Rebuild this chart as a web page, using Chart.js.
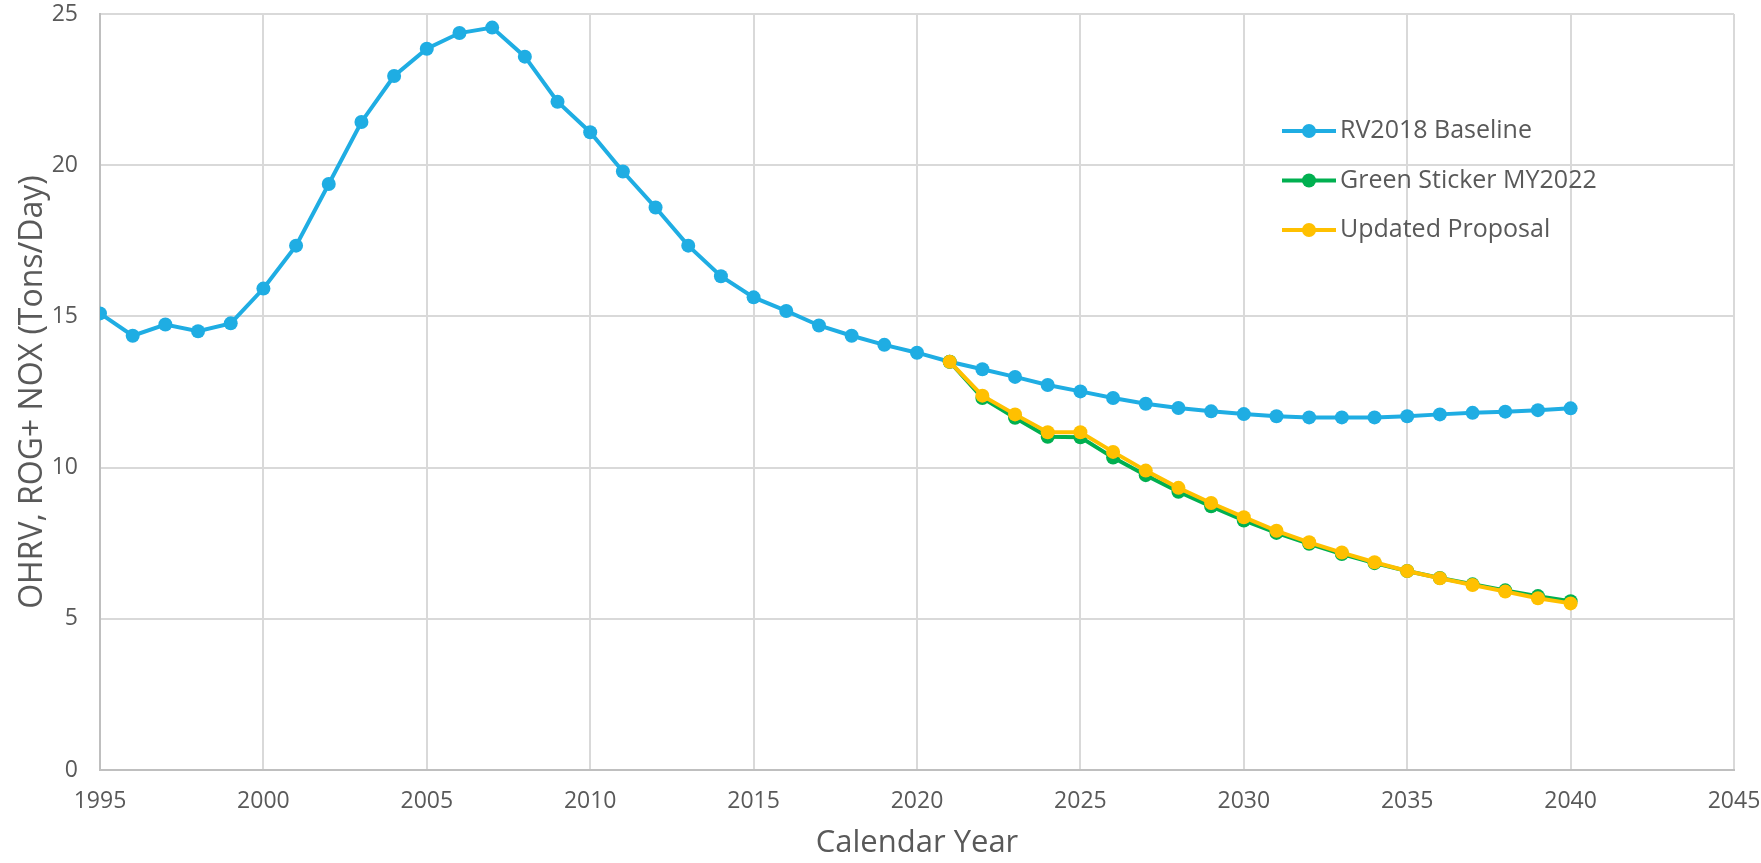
<!DOCTYPE html>
<html>
<head>
<meta charset="utf-8">
<script src="https://cdn.jsdelivr.net/npm/chart.js@4"></script>
<style>
  html, body { margin: 0; padding: 0; background: #fff; }
  #wrap { width: 1761px; height: 863px; }
</style>
</head>
<body>
<div id="wrap"><canvas id="chart" width="1761" height="863"></canvas></div>
<script>
const years = [];
for (let y = 1995; y <= 2040; y++) years.push(y);

const baseline = [
  15.10, 14.36, 14.73, 14.51, 14.77, 15.92, 17.34, 19.38, 21.43, 22.95,
  23.85, 24.37, 24.55, 23.59, 22.10, 21.09, 19.79, 18.60, 17.34, 16.33,
  15.63, 15.18, 14.70, 14.36, 14.06, 13.80, 13.50, 13.25, 13.00, 12.73,
  12.52, 12.30, 12.11, 11.97, 11.86, 11.77, 11.70, 11.66, 11.66, 11.66,
  11.70, 11.76, 11.81, 11.85, 11.90, 11.96
];

const scenarioYears = [];
for (let y = 2021; y <= 2040; y++) scenarioYears.push(y);

const greenSticker = [
  13.50, 12.30, 11.65, 11.02, 11.00, 10.33, 9.75, 9.20, 8.72, 8.25,
  7.84, 7.48, 7.14, 6.84, 6.58, 6.35, 6.14, 5.94, 5.75, 5.58
];
const updatedProposal = [
  13.50, 12.38, 11.76, 11.17, 11.17, 10.52, 9.90, 9.33, 8.83, 8.36,
  7.91, 7.53, 7.19, 6.87, 6.58, 6.34, 6.12, 5.90, 5.68, 5.51
];

const seriesNames = ['RV2018 Baseline', 'Green Sticker MY2022', 'Updated Proposal'];
const seriesColors = ['#1fade3', '#00b050', '#ffc000'];

function points(xs, ys) {
  return xs.map((x, i) => ({ x: x, y: ys[i] }));
}

const font = "'Open Sans', 'Liberation Sans', sans-serif";
const textColor = '#595959';

// legend drawn inside the plot area, like the original
const insideLegend = {
  id: 'insideLegend',
  afterDraw(chart) {
    const ctx = chart.ctx;
    ctx.save();
    chart.data.datasets.forEach((ds, i) => {
      const y = 131 + i * 49.5;
      ctx.strokeStyle = ds.borderColor;
      ctx.lineWidth = 4;
      ctx.beginPath();
      ctx.moveTo(1282, y);
      ctx.lineTo(1336, y);
      ctx.stroke();
      ctx.fillStyle = ds.borderColor;
      ctx.beginPath();
      ctx.arc(1309, y, 7, 0, Math.PI * 2);
      ctx.fill();
      ctx.fillStyle = textColor;
      ctx.font = '25px ' + font;
      ctx.textBaseline = 'middle';
      ctx.textAlign = 'left';
      ctx.fillText(ds.label, 1340, y);
    });
    ctx.restore();
  }
};

const datasets = [
  { label: seriesNames[0], data: points(years, baseline), order: 3 },
  { label: seriesNames[1], data: points(scenarioYears, greenSticker), order: 2 },
  { label: seriesNames[2], data: points(scenarioYears, updatedProposal), order: 1 }
].map((ds, i) => Object.assign(ds, {
  borderColor: seriesColors[i],
  backgroundColor: seriesColors[i],
  borderWidth: 4,
  pointRadius: 7,
  pointBorderWidth: 0,
  tension: 0
}));

new Chart(document.getElementById('chart'), {
  type: 'line',
  data: { datasets },
  options: {
    responsive: false,
    animation: false,
    layout: { padding: 0 },
    plugins: {
      legend: { display: false },
      tooltip: { enabled: false }
    },
    scales: {
      x: {
        type: 'linear',
        min: 1995,
        max: 2045,
        ticks: {
          stepSize: 5,
          color: textColor,
          font: { family: font, size: 23 },
          padding: 18,
          maxRotation: 0,
          callback: v => String(v)
        },
        grid: { color: '#d9d9d9', lineWidth: 2, drawTicks: false },
        border: { color: '#bfbfbf', width: 2 },
        title: {
          display: true,
          text: 'Calendar Year',
          color: textColor,
          font: { family: font, size: 31 },
          padding: { top: 0, bottom: 1 }
        },
        afterFit(scale) {
          scale.height = 93;
          scale.paddingLeft = 0;
          scale.paddingRight = 27;
        }
      },
      y: {
        min: 0,
        max: 25,
        ticks: {
          stepSize: 5,
          color: textColor,
          font: { family: font, size: 23 },
          padding: 22
        },
        grid: { color: '#d9d9d9', lineWidth: 2, drawTicks: false },
        border: { color: '#bfbfbf', width: 2 },
        title: {
          display: true,
          text: 'OHRV, ROG+ NOX (Tons/Day)',
          color: textColor,
          font: { family: font, size: 32 },
          padding: { top: 14, bottom: 0 }
        },
        afterFit(scale) {
          scale.width = 100;
          scale.paddingTop = 14;
          scale.paddingBottom = 0;
        }
      }
    }
  },
  plugins: [insideLegend]
});
</script>
</body>
</html>
